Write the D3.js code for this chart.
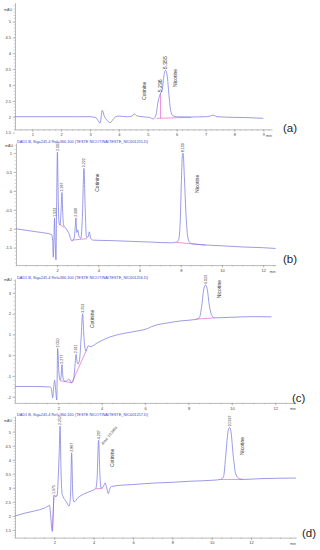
<!DOCTYPE html>
<html>
<head>
<meta charset="utf-8">
<script src="https://cdnjs.cloudflare.com/ajax/libs/d3/7.8.5/d3.min.js"></script>
<style>
  body { margin: 0; background: #fff; }
  svg { display: block; font-family: "Liberation Sans", Arial, sans-serif; }
</style>
</head>
<body>
<svg id="chart" width="320" height="550"></svg>
<script>

// panel letters and the instrument header lines
var panelNames = ['(a)', '(b)', '(c)', '(d)'];
var headerTexts = [
  '',
  'DAD1 B, Sig=245,4 Ref=360,100 (TESTE NICOTINA\\TESTE_NIC001255.D)',
  'DAD1 B, Sig=245,4 Ref=360,100 (TESTE NICOTINA\\TESTE_NIC001256.D)',
  'DAD1 B, Sig=245,4 Ref=360,100 (TESTE NICOTINA\\TESTE_NIC001257.D)'
];

// tick labels
var xTicksA = [1, 2, 3, 4, 5, 6, 7, 8, 9];
var xTicksB = [2, 4, 6, 8, 10, 12];
var xTicksC = [2, 4, 6, 8, 10, 12];
var xTicksD = [2, 4, 6, 8, 10, 12];
var yTicksA = [1.5, 2, 2.5, 3, 3.5, 4, 4.5, 5];
var yTicksB = [-1.5, -1, -0.5, 0, 0.5, 1];
var yTicksC = [-2, -1, 0, 1, 2, 3];
var yTicksD = [1.5, 2, 2.5, 3, 3.5, 4, 4.5, 5];

// signal traces, [time (min), absorbance (mAU)]
var traceA = [
  [0.4, 2.0], [1.5, 2.0], [2.5, 2.0], [3.0, 2.0], [3.2, 1.97], [3.35, 1.8], [3.42, 2.2],
  [3.5, 2.0], [3.58, 1.9], [3.69, 1.81], [3.8, 1.92], [3.88, 2.0], [4.0, 2.02], [4.3, 2.0],
  [4.45, 2.02], [4.53, 2.09], [4.62, 2.03], [4.8, 2.0], [5.05, 1.98], [5.19, 1.93],
  [5.28, 2.05], [5.36, 2.5], [5.44, 2.74], [5.5, 2.85], [5.55, 3.25], [5.61, 3.47], [5.67, 3.3],
  [5.73, 2.7], [5.79, 2.2], [5.87, 2.03], [6.0, 2.0], [6.5, 1.99], [7.0, 2.0], [7.15, 2.02],
  [7.26, 2.05], [7.4, 2.0], [8.0, 1.98], [8.5, 1.97], [9.0, 1.95]
];
var traceB = [
  [0, -1.0], [0.5, -1.04], [1.0, -1.08], [1.5, -1.12], [1.72, -1.15], [1.78, -1.3], [1.81, -1.75],
  [1.84, -1.3], [1.87, -0.71], [1.9, -1.3], [1.94, -1.82], [1.97, -0.5], [2.01, 1.03], [2.05, -0.2],
  [2.09, -0.85], [2.14, -0.9], [2.19, -0.5], [2.23, -0.04], [2.27, -0.6], [2.31, -0.9], [2.4, -0.97],
  [2.55, -1.1], [2.72, -1.32], [2.82, -1.25], [2.87, -1.0], [2.91, -0.71], [2.95, -1.1], [3.0, -1.03],
  [3.06, -1.2], [3.15, -1.25], [3.22, -0.7], [3.3, 0.6], [3.36, -0.5], [3.42, -1.22], [3.49, -1.22],
  [3.56, -1.08], [3.62, -1.25], [3.75, -1.3], [4.5, -1.31], [5.5, -1.33], [6.5, -1.35], [7.5, -1.37],
  [7.8, -1.35], [7.9, -1.28], [7.97, -0.8], [8.03, 0.3], [8.08, 0.98], [8.11, 1.0], [8.17, 0.4],
  [8.24, -0.5], [8.32, -1.15], [8.43, -1.36], [8.6, -1.4], [9.0, -1.42], [10.0, -1.45],
  [11.0, -1.48], [12.0, -1.5], [12.6, -1.52]
];
var traceC = [
  [0, -1.5], [0.8, -1.5], [1.6, -1.52], [1.68, -1.6], [1.74, -2.05], [1.79, -1.5], [1.83, -1.2],
  [1.88, -1.7], [1.93, -2.15], [1.97, 0.33], [2.02, -0.7], [2.08, -1.2], [2.12, -1.1], [2.17, -0.45],
  [2.21, -1.0], [2.26, -1.22], [2.35, -1.25], [2.49, -1.15], [2.62, -1.32], [2.7, -1.2], [2.77, -0.5],
  [2.82, 0.05], [2.87, -0.35], [2.91, -0.42], [2.98, -0.2], [3.05, 0.8], [3.12, 2.0], [3.18, 0.9],
  [3.24, 0.3], [3.28, 0.2], [3.37, 0.45], [3.5, 0.42], [3.8, 0.6], [4.3, 0.85], [5.0, 1.05],
  [5.8, 1.2], [6.1, 1.28], [6.3, 1.38], [6.5, 1.45], [7.0, 1.55], [7.6, 1.65], [8.3, 1.72],
  [8.5, 1.8], [8.6, 2.3], [8.7, 3.15], [8.78, 3.38], [8.86, 3.2], [8.96, 2.4], [9.08, 1.9],
  [9.22, 1.8], [9.5, 1.81], [10.0, 1.83], [11.0, 1.86], [11.83, 1.85]
];
var traceD = [
  [0, 2.0], [0.5, 2.1], [1.0, 2.18], [1.5, 2.28], [1.76, 2.37], [1.79, 2.2], [1.82, 1.95],
  [1.86, 1.6], [1.9, 1.45], [1.94, 2.0], [1.98, 2.75], [2.04, 2.7], [2.14, 2.72], [2.2, 3.4],
  [2.25, 4.3], [2.29, 5.2], [2.34, 3.6], [2.39, 2.8], [2.45, 2.68], [2.6, 2.52], [2.75, 2.35],
  [2.82, 2.7], [2.88, 4.25], [2.94, 2.7], [3.0, 2.5], [3.2, 2.65], [3.5, 2.78], [3.9, 2.9],
  [4.1, 2.97], [4.17, 3.3], [4.25, 4.7], [4.32, 3.4], [4.38, 3.0], [4.48, 3.03], [4.58, 3.18],
  [4.66, 3.0], [4.74, 2.8], [4.81, 2.95], [4.9, 3.05], [5.5, 3.1], [6.0, 3.12], [7.0, 3.17],
  [8.0, 3.2], [9.0, 3.24], [10.0, 3.27], [10.45, 3.3], [10.6, 3.4], [10.72, 4.2], [10.84, 5.05],
  [10.91, 5.15], [10.98, 5.0], [11.1, 4.1], [11.22, 3.5], [11.4, 3.33], [11.6, 3.3], [12.5, 3.33],
  [14.29, 3.35]
];

// integration baselines (pink), list of segments
var baseA = [[[5.3, 1.95], [6.5, 1.98]], [[5.44, 1.95], [5.44, 2.74]]];
var baseB = [[[2.09, -0.87], [2.35, -0.97]], [[2.72, -1.3], [3.45, -1.26]], [[7.8, -1.36], [9.2, -1.43]]];
var baseC = [[[2.08, -1.22], [2.62, -1.32]], [[2.62, -1.32], [3.3, 0.25]], [[8.35, 1.74], [9.2, 1.8]]];
var baseD = [[[1.9, 1.5], [1.98, 2.7]], [[2.04, 2.7], [2.14, 2.72]], [[4.1, 2.97], [4.45, 2.98]], [[10.45, 3.3], [11.6, 3.3]]];

// retention time labels at the peak tops
var peaksA = [{t: 5.44, v: 2.74, label: '5.236'}, {t: 5.61, v: 3.47, label: '5.355'}];
var peaksB = [
  {t: 1.87, v: -0.71, label: '1.923'}, {t: 2.01, v: 1.03, label: '2.007'}, {t: 2.23, v: -0.04, label: '2.267'},
  {t: 2.91, v: -0.71, label: '2.906'}, {t: 3.3, v: 0.6, label: '3.222'}, {t: 8.1, v: 1.0, label: '8.100'}
];
var peaksC = [
  {t: 1.97, v: 0.33, label: '2.050'}, {t: 2.17, v: -0.45, label: '2.277'}, {t: 2.82, v: 0.05, label: '2.911'},
  {t: 3.12, v: 2.0, label: '3.253'}, {t: 8.78, v: 3.38, label: '9.023'}
];
var peaksD = [
  {t: 1.98, v: 2.75, label: '1.975'}, {t: 2.29, v: 5.2, label: '2.252'}, {t: 2.88, v: 4.25, label: '2.867'},
  {t: 4.25, v: 4.7, label: '4.207'}, {t: 10.91, v: 5.15, label: '10.937'}
];

// compound names (text starts at t, v and runs upwards)
var compoundsA = [{t: 4.86, v: 2.53, name: 'Cotinine'}, {t: 5.96, v: 2.94, name: 'Nicotine'}];
var compoundsB = [{t: 3.93, v: -0.02, name: 'Cotinine'}, {t: 8.79, v: -0.05, name: 'Nicotine'}];
var compoundsC = [{t: 3.55, v: 1.31, name: 'Cotinine'}, {t: 9.4, v: 2.75, name: 'Nicotine'}];
var compoundsD = [{t: 4.93, v: 3.74, name: 'Cotinine'}, {t: 11.54, v: 4.17, name: 'Nicotine'}];
var areaD = [{t: 4.47, v: 4.53, text: 'Area: 10.3463'}];


var svg = d3.select('#chart');

var traceColor = '#7a7ae2';
var baseColor = '#e24cc6';
var axisColor = '#8a8a8a';

// pixel layout of each panel
var panels = [
  {name: panelNames[0], header: headerTexts[0], trace: traceA, base: baseA, peaks: peaksA, compounds: compoundsA,
   xTicks: xTicksA, yTicks: yTicksA, xMinor: 0.2, yMinor: 0.1, peakFont: 5.2,
   xDomain: [0.4, 9.3], xRange: [15, 272], yDomain: [1.6, 5.6], yRange: [129.4, 2.7],
   headerY: 0, mauY: 11, nameX: 283, nameY: 132},
  {name: panelNames[1], header: headerTexts[1], trace: traceB, base: baseB, peaks: peaksB, compounds: compoundsB,
   xTicks: xTicksB, yTicks: yTicksB, xMinor: 0.5, yMinor: 0.1, peakFont: 3.6,
   xDomain: [0, 12.6], xRange: [16, 275.6], yDomain: [-1.96, 1.27], yRange: [265.1, 143],
   headerY: 143, mauY: 147, nameX: 283, nameY: 263},
  {name: panelNames[2], header: headerTexts[2], trace: traceC, base: baseC, peaks: peaksC, compounds: compoundsC,
   xTicks: xTicksC, yTicks: yTicksC, xMinor: 0.5, yMinor: 0.2, peakFont: 3.6,
   xDomain: [0, 12.95], xRange: [14.9, 295.9], yDomain: [-2.29, 3.67], yRange: [402.9, 279],
   headerY: 279.5, mauY: 281, nameX: 292, nameY: 402},
  {name: panelNames[3], header: headerTexts[3], trace: traceD, base: baseD, peaks: peaksD, compounds: compoundsD,
   xTicks: xTicksD, yTicks: yTicksD, xMinor: 0.5, yMinor: 0.1, peakFont: 3.6, area: areaD,
   xDomain: [0, 14.29], xRange: [15, 296.1], yDomain: [1.23, 5.56], yRange: [537.6, 416],
   headerY: 416.5, mauY: 422, nameX: 302, nameY: 537}
];

var drawPanel = function(cfg) {
  var x = d3.scaleLinear().domain(cfg.xDomain).range(cfg.xRange);
  var y = d3.scaleLinear().domain(cfg.yDomain).range(cfg.yRange);
  var g = svg.append('g');

  // minor ticks first so the axes sit on top
  var xm = d3.range(Math.ceil(cfg.xDomain[0] / cfg.xMinor) * cfg.xMinor, cfg.xDomain[1], cfg.xMinor);
  g.append('g').selectAll('line').data(xm).enter().append('line')
    .attr('x1', function(d) { return x(d); }).attr('x2', function(d) { return x(d); })
    .attr('y1', cfg.yRange[0]).attr('y2', cfg.yRange[0] + 1.3)
    .attr('stroke', axisColor).attr('stroke-width', 0.4);

  var ym = d3.range(Math.ceil(cfg.yDomain[0] / cfg.yMinor) * cfg.yMinor, cfg.yDomain[1], cfg.yMinor);
  g.append('g').selectAll('line').data(ym).enter().append('line')
    .attr('y1', function(d) { return y(d); }).attr('y2', function(d) { return y(d); })
    .attr('x1', cfg.xRange[0]).attr('x2', cfg.xRange[0] - 1.3)
    .attr('stroke', axisColor).attr('stroke-width', 0.4);

  var xAxis = d3.axisBottom(x).tickValues(cfg.xTicks).tickSize(2.5).tickSizeOuter(0).tickPadding(1.5)
    .tickFormat(function(d) { return String(d); });
  var yAxis = d3.axisLeft(y).tickValues(cfg.yTicks).tickSize(2.5).tickSizeOuter(0).tickPadding(1.5)
    .tickFormat(function(d) { return String(d); });

  var gx = g.append('g').attr('transform', 'translate(0,' + cfg.yRange[0] + ')').call(xAxis);
  var gy = g.append('g').attr('transform', 'translate(' + cfg.xRange[0] + ',0)').call(yAxis);

  [gx, gy].forEach(function(ax) {
    ax.select('.domain').attr('stroke', axisColor).attr('stroke-width', 0.6);
    ax.selectAll('.tick line').attr('stroke', axisColor).attr('stroke-width', 0.5);
    ax.selectAll('.tick text').attr('font-size', 4).attr('fill', '#444').attr('font-family', null);
  });

  // "min" at the end of the time axis, "mAU" at the top of the signal axis
  g.append('text').attr('x', cfg.xRange[1] - 3).attr('y', cfg.yRange[0] + 7.5)
    .attr('text-anchor', 'middle').attr('font-size', 3.6).attr('fill', '#444').text('min');
  g.append('text').attr('x', cfg.xRange[0] - 3).attr('y', cfg.mauY)
    .attr('text-anchor', 'end').attr('font-size', 3.6).attr('fill', '#444').text('mAU');

  if (cfg.header) {
    g.append('text').attr('x', 17).attr('y', cfg.headerY - 0.5)
      .attr('font-size', 3.8).attr('fill', '#3b45c8')
      .attr('textLength', 131).attr('lengthAdjust', 'spacingAndGlyphs')
      .text(cfg.header);
  }

  // pink integration baselines
  var segLine = d3.line().x(function(d) { return x(d[0]); }).y(function(d) { return y(d[1]); });
  g.append('g').selectAll('path').data(cfg.base).enter().append('path')
    .attr('d', segLine).attr('fill', 'none')
    .attr('stroke', baseColor).attr('stroke-width', 0.6);

  // signal
  var line = d3.line().curve(d3.curveMonotoneX)
    .x(function(d) { return x(d[0]); }).y(function(d) { return y(d[1]); });
  g.append('path').datum(cfg.trace).attr('d', line)
    .attr('fill', 'none').attr('stroke', traceColor).attr('stroke-width', 0.75);

  // retention time labels, rotated upward
  g.append('g').selectAll('text').data(cfg.peaks).enter().append('text')
    .attr('transform', function(d) {
      return 'translate(' + (x(d.t) + cfg.peakFont * 0.36) + ',' + (y(d.v) - 1) + ') rotate(-90)';
    })
    .attr('font-size', cfg.peakFont).attr('fill', '#333').text(function(d) { return d.label; });

  g.append('g').selectAll('text').data(cfg.compounds).enter().append('text')
    .attr('transform', function(d) {
      return 'translate(' + (x(d.t) + 1.8) + ',' + y(d.v) + ') rotate(-90)';
    })
    .attr('font-size', 5).attr('fill', '#333').text(function(d) { return d.name; });

  if (cfg.area) {
    g.append('g').selectAll('text').data(cfg.area).enter().append('text')
      .attr('transform', function(d) {
        return 'translate(' + x(d.t) + ',' + y(d.v) + ') rotate(-50)';
      })
      .attr('font-size', 3.6).attr('fill', '#333').text(function(d) { return d.text; });
  }

  g.append('text').attr('x', cfg.nameX).attr('y', cfg.nameY)
    .attr('font-size', 11.5).attr('fill', '#222').text(cfg.name);
};

panels.forEach(drawPanel);

</script>
</body>
</html>
